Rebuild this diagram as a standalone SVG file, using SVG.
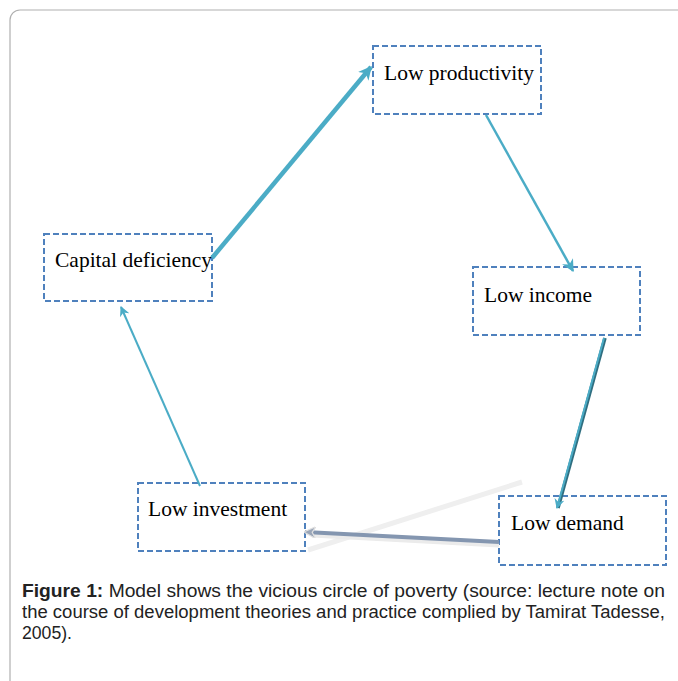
<svg xmlns="http://www.w3.org/2000/svg" width="678" height="681" viewBox="0 0 678 681">
<style>
.box{fill:#fff;stroke:#4F81BD;stroke-width:2;stroke-dasharray:6,3}
.lbl{font-family:"Liberation Serif","Times New Roman",serif;font-size:21.5px;fill:#000}
.cap{font-family:"Liberation Sans",Arial,sans-serif;font-size:17.5px;fill:#222}
.teal{stroke:#4BACC6;fill:none}
</style>
<defs>
<marker id="ah" viewBox="0 0 10 10" refX="9" refY="5" markerWidth="3" markerHeight="3" orient="auto" markerUnits="strokeWidth">
<path d="M0,0 L10,5 L0,10 L3,5 z" fill="#4BACC6"/>
</marker>
<marker id="ah2" viewBox="0 0 10 10" refX="9" refY="5" markerWidth="5" markerHeight="5" orient="auto" markerUnits="strokeWidth">
<path d="M0,0 L10,5 L0,10 L3,5 z" fill="#4BACC6"/>
</marker>
<marker id="ahg" viewBox="0 0 10 10" refX="9" refY="5" markerWidth="3" markerHeight="3" orient="auto" markerUnits="strokeWidth">
<path d="M0,0 L10,5 L0,10 L3,5 z" fill="#9AA6B8" stroke="#E0E0E0" stroke-width="1"/>
</marker>
</defs>
<rect x="0" y="0" width="678" height="681" fill="#fff"/>
<rect x="10" y="10" width="700" height="700" rx="10" ry="10" fill="#fff" stroke="#B0B0B0" stroke-width="1.2"/>
<g id="n_productivity">
<rect class="box" x="373" y="46" width="168" height="68"/>
<text class="lbl" x="384" y="80">Low productivity</text>
</g>
<g id="n_capital">
<rect class="box" x="44" y="234" width="168" height="67"/>
<text class="lbl" x="55" y="267">Capital deficiency</text>
</g>
<g id="n_income">
<rect class="box" x="473" y="267" width="167" height="68"/>
<text class="lbl" x="484" y="302">Low income</text>
</g>
<g id="n_investment">
<rect class="box" x="138" y="483" width="167" height="68"/>
<text class="lbl" x="148" y="516">Low investment</text>
</g>
<g id="n_demand">
<rect class="box" x="499" y="496" width="167" height="69"/>
<text class="lbl" x="511" y="530">Low demand</text>
</g>
<g id="connectors">
<line x1="522" y1="482" x2="308" y2="550" stroke="#EFEFEF" stroke-width="5"/>
<line x1="212" y1="258" x2="371" y2="67" class="teal" stroke-width="4.5" marker-end="url(#ah)"/>
<line x1="486" y1="115" x2="573" y2="271" class="teal" stroke-width="2.5" marker-end="url(#ah2)"/>
<line x1="605" y1="338" x2="558" y2="508" stroke="#2F6E80" stroke-width="3.5"/>
<line x1="604" y1="338" x2="557" y2="508" class="teal" stroke-width="2" marker-end="url(#ah2)"/>
<line x1="499" y1="545" x2="312" y2="535" stroke="#EBEBEB" stroke-width="5"/>
<line x1="499" y1="542" x2="305" y2="532" stroke="#8496B0" stroke-width="4" marker-end="url(#ahg)"/>
<line x1="200" y1="486" x2="121" y2="307" class="teal" stroke-width="2" marker-end="url(#ah2)"/>
</g>
<g id="caption">
<text class="cap" x="22" y="597" textLength="643" lengthAdjust="spacingAndGlyphs"><tspan font-weight="bold">Figure 1:</tspan> Model shows the vicious circle of poverty (source: lecture note on</text>
<text class="cap" x="22" y="618" textLength="643" lengthAdjust="spacingAndGlyphs">the course of development theories and practice complied by Tamirat Tadesse,</text>
<text class="cap" x="22" y="639" textLength="50" lengthAdjust="spacingAndGlyphs">2005).</text>
</g>
</svg>
